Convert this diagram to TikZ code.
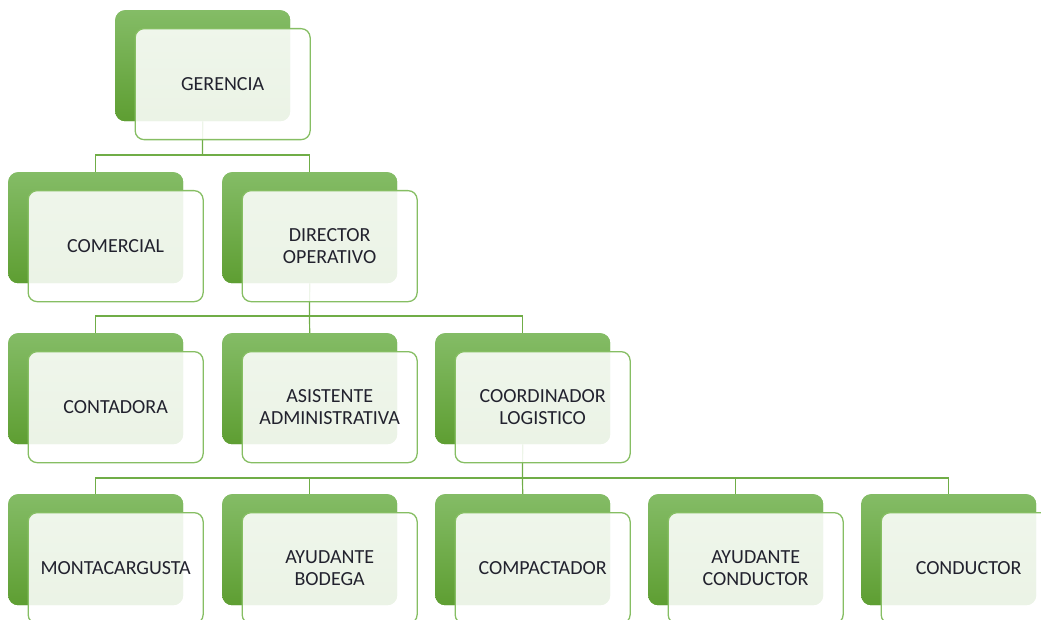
\documentclass[tikz,border=0pt]{standalone}
\usepackage{fontspec}
\setmainfont{Carlito}
\definecolor{gtop}{HTML}{84BC66}
\definecolor{gbot}{HTML}{5E9E32}
\definecolor{gline}{HTML}{70AD47}
\definecolor{gedge}{HTML}{86BE63}
\definecolor{txt}{HTML}{22222E}
\tikzset{
  backbox/.style={rectangle, rounded corners=10pt, minimum width=175pt, minimum height=111pt, inner sep=0pt, top color=gtop, bottom color=gbot, draw=none},
  frontbox/.style={rectangle, rounded corners=9pt, minimum width=175pt, minimum height=111pt, inner sep=0pt, fill=white, fill opacity=0.88, text opacity=1, draw=gedge, draw opacity=1, line width=1.3pt, align=center, text=txt, font=\fontsize{20}{22}\selectfont},
  conn/.style={draw=gline, line width=1.2pt}
}
\begin{document}
\begin{tikzpicture}[x=1pt,y=-1pt]
\useasboundingbox (0,0) rectangle (1041,620);
\clip (0,0) rectangle (1041,620);
% back boxes (positions)
\coordinate (p0) at (115,10);
\coordinate (p1) at (8,172);
\coordinate (p2) at (222,172);
\coordinate (p3) at (8,333);
\coordinate (p4) at (222,333);
\coordinate (p5) at (435,333);
\coordinate (p6) at (8,494);
\coordinate (p7) at (222,494);
\coordinate (p8) at (435,494);
\coordinate (p9) at (648,494);
\coordinate (p10) at (861,494);
% connector junctions
\coordinate (j0) at (202.5,155);
\coordinate (j1) at (309.5,316);
\coordinate (j2) at (522.5,478);
% back boxes
\foreach \i in {0,...,10} {
  \node[backbox, anchor=north west] (b\i) at (p\i) {};
}
% connectors
\draw[conn] (b0.south) -- (j0);
\draw[conn] (j0) -| (b1.north);
\draw[conn] (j0) -| (b2.north);
\draw[conn] (b2.south) -- (j1);
\draw[conn] (j1) -| (b3.north);
\draw[conn] (j1) -- (b4.north);
\draw[conn] (j1) -| (b5.north);
\draw[conn] (b5.south) -- (j2);
\draw[conn] (j2) -| (b6.north);
\draw[conn] (j2) -| (b7.north);
\draw[conn] (j2) -- (b8.north);
\draw[conn] (j2) -| (b9.north);
\draw[conn] (j2) -| (b10.north);
% redraw back boxes over connector ends
\foreach \i in {0,...,10} {
  \node[backbox, anchor=north west] at (p\i) {};
}
% front boxes
\node[frontbox, anchor=north west] (f0) at ([shift={(19.5,18)}]p0) {GERENCIA};
\node[frontbox, anchor=north west] (f1) at ([shift={(19.5,18)}]p1) {COMERCIAL};
\node[frontbox, anchor=north west] (f2) at ([shift={(19.5,18)}]p2) {DIRECTOR\\OPERATIVO};
\node[frontbox, anchor=north west] (f3) at ([shift={(19.5,18)}]p3) {CONTADORA};
\node[frontbox, anchor=north west] (f4) at ([shift={(19.5,18)}]p4) {ASISTENTE\\ADMINISTRATIVA};
\node[frontbox, anchor=north west] (f5) at ([shift={(19.5,18)}]p5) {COORDINADOR\\LOGISTICO};
\node[frontbox, anchor=north west] (f6) at ([shift={(19.5,18)}]p6) {MONTACARGUSTA};
\node[frontbox, anchor=north west] (f7) at ([shift={(19.5,18)}]p7) {AYUDANTE\\BODEGA};
\node[frontbox, anchor=north west] (f8) at ([shift={(19.5,18)}]p8) {COMPACTADOR};
\node[frontbox, anchor=north west] (f9) at ([shift={(19.5,18)}]p9) {AYUDANTE\\CONDUCTOR};
\node[frontbox, anchor=north west] (f10) at ([shift={(19.5,18)}]p10) {CONDUCTOR};
\end{tikzpicture}
\end{document}
